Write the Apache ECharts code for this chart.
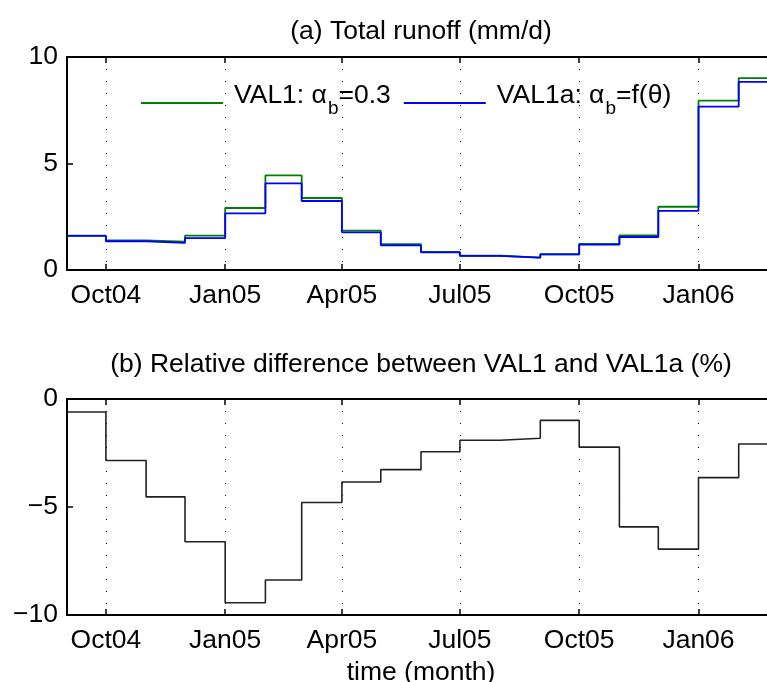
<!DOCTYPE html>
<html><head><meta charset="utf-8">
<script src="https://cdn.jsdelivr.net/npm/echarts@6/dist/echarts.min.js"></script>
<style>html,body{margin:0;padding:0;background:#fff}#c{width:767px;height:682px}</style>
</head><body><div id="c"></div><script>
// ---- data ----
const months = ['2004-09','2004-10','2004-11','2004-12','2005-01','2005-02','2005-03','2005-04','2005-05','2005-06','2005-07','2005-08','2005-09','2005-10','2005-11','2005-12','2006-01','2006-02'];
const val1  = [1.61,1.39,1.33,1.61,2.91,4.44,3.38,1.85,1.21,0.85,0.67,0.58,0.74,1.23,1.63,2.97,7.95,9.01];
const val1a = [1.60,1.35,1.27,1.50,2.66,4.07,3.24,1.77,1.16,0.83,0.66,0.58,0.73,1.19,1.55,2.78,7.67,8.83];
const relDiff = [-0.6,-2.85,-4.53,-6.61,-9.43,-8.38,-4.79,-3.84,-3.27,-2.44,-1.91,-1.82,-0.99,-2.23,-5.92,-6.95,-3.64,-2.08];
const lastMonthEnd = '2006-03';
const xTickMonths = ['2004-10','2005-01','2005-04','2005-07','2005-10','2006-01'];
const xTickLabels = ['Oct04','Jan05','Apr05','Jul05','Oct05','Jan06'];
const titleA = '(a) Total runoff (mm/d)';
const titleB = '(b) Relative difference between VAL1 and VAL1a (%)';
const xName = 'time (month)';
const seriesNames = ['VAL1','VAL1a'];
const legendLabels = {VAL1: '{n|VAL1: α}{s|b}{n|=0.3}', VAL1a: '{n|VAL1a: α}{s|b}{n|=f(θ)}'};

// ---- helpers ----
function ts(s){const p=s.split('-');return Date.UTC(+p[0],+p[1]-1,1);}
function stepData(vals){
  const d = months.map((m,i)=>[ts(m),vals[i]]);
  d.push([ts(lastMonthEnd), vals[vals.length-1]]);
  return d;
}
const tickVals = xTickMonths.map(ts);
const labelMap = {}; tickVals.forEach((t,i)=>labelMap[t]=xTickLabels[i]);
const FONT = 'Liberation Sans, Arial, Helvetica, sans-serif';
const FS = 26.5;
const xMin = ts(months[0]), xMax = ts(lastMonthEnd);
const fmtNum = v => v<0 ? '\u2212'+(-v) : String(v);

function xBottom(gi, withName){
  const a = {
    gridIndex: gi, type:'value', min:xMin, max:xMax, position:'bottom',
    axisLine:{show:true, onZero:false, lineStyle:{color:'#000', width:2}},
    axisTick:{show:true, inside:true, length:6, customValues:tickVals, lineStyle:{color:'#000', width:1.5}},
    axisLabel:{show:true, customValues:tickVals, formatter:v=>labelMap[v]||'', fontSize:FS, color:'#000', fontFamily:FONT, margin:12},
    splitLine:{show:true, lineStyle:{color:'#000', width:1, type:[1,11]}}
  };
  if (withName){
    a.name = xName; a.nameLocation='middle'; a.nameGap=44;
    a.nameTextStyle = {fontSize:FS, color:'#000', fontFamily:FONT};
  }
  return a;
}
function xTop(gi){
  return {
    gridIndex: gi, type:'value', min:xMin, max:xMax, position:'top',
    axisLine:{show:true, onZero:false, lineStyle:{color:'#000', width:2}},
    axisTick:{show:true, inside:true, length:6, customValues:tickVals, lineStyle:{color:'#000', width:1.5}},
    axisLabel:{show:false}, splitLine:{show:false}
  };
}
function yAx(gi, mn, mx){
  return {
    gridIndex: gi, type:'value', min:mn, max:mx, interval:5,
    axisLine:{show:true, onZero:false, lineStyle:{color:'#000', width:2}},
    axisTick:{show:true, inside:true, length:6, lineStyle:{color:'#000', width:1.5}},
    axisLabel:{formatter:fmtNum, fontSize:FS, color:'#000', fontFamily:FONT, margin:9},
    splitLine:{show:false}
  };
}

const chart = echarts.init(document.getElementById('c'), null, {renderer:'canvas'});
chart.setOption({
  animation:false,
  backgroundColor:'#fff',
  title:[
    {text:titleA, left:421, top:18, padding:0, textAlign:'center', textStyle:{fontSize:FS, fontWeight:'normal', color:'#000', fontFamily:FONT}},
    {text:titleB, left:421, top:351, padding:0, textAlign:'center', textStyle:{fontSize:FS, fontWeight:'normal', color:'#000', fontFamily:FONT}}
  ],
  legend:{
    data:seriesNames, left:141, top:82, padding:0, orient:'horizontal',
    icon:'rect', itemWidth:82, itemHeight:2, itemGap:13,
    formatter: n => legendLabels[n],
    textStyle:{fontSize:FS, color:'#000', fontFamily:FONT, padding:[0,0,0,6],
      rich:{ n:{fontSize:FS, color:'#000', fontFamily:FONT, verticalAlign:'top'},
             s:{fontSize:19, color:'#000', fontFamily:FONT, verticalAlign:'top', padding:[17,0,6,1]} }}
  },
  grid:[
    {left:67, top:57, width:708, height:213, containLabel:false, outerBoundsMode:'none'},
    {left:67, top:399, width:708, height:216, containLabel:false, outerBoundsMode:'none'}
  ],
  xAxis:[ xBottom(0,false), xTop(0), xBottom(1,true), xTop(1) ],
  yAxis:[ yAx(0,0,10), yAx(1,-10,0) ],
  series:[
    {name:seriesNames[0], type:'line', step:'end', xAxisIndex:0, yAxisIndex:0, data:stepData(val1), symbol:'none', lineStyle:{color:'#008000', width:1.8}, itemStyle:{color:'#008000'}},
    {name:seriesNames[1], type:'line', step:'end', xAxisIndex:0, yAxisIndex:0, data:stepData(val1a), symbol:'none', lineStyle:{color:'#0000ff', width:1.8}, itemStyle:{color:'#0000ff'}},
    {name:'diff', type:'line', step:'end', xAxisIndex:2, yAxisIndex:1, data:stepData(relDiff), symbol:'none', lineStyle:{color:'#222', width:1.6}, itemStyle:{color:'#222'}}
  ]
});
</script></body></html>
